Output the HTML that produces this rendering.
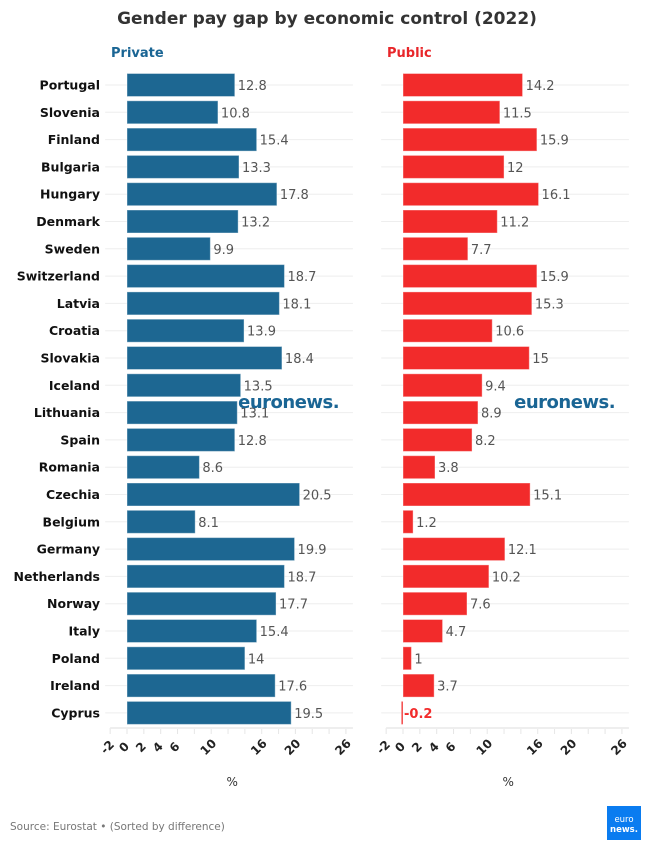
<!DOCTYPE html>
<html><head><meta charset="utf-8"><style>
body{margin:0;background:#fff;width:654px;height:848px;overflow:hidden;font-family:"DejaVu Sans","Liberation Sans",sans-serif}
</style></head><body>
<svg id="c" width="654" height="848" xmlns="http://www.w3.org/2000/svg" font-family="DejaVu Sans, Liberation Sans, sans-serif">
<text x="327" y="24" text-anchor="middle" font-size="17" font-weight="bold" fill="#333">Gender pay gap by economic control (2022)</text>
<text x="111" y="57" font-size="13" font-weight="bold" fill="#1a6594">Private</text>
<text x="387" y="57" font-size="13" font-weight="bold" fill="#e8262a">Public</text>
<g id="g"></g>
<text x="10" y="830" font-size="10.5" fill="#777">Source: Eurostat • (Sorted by difference)</text>
<rect x="607" y="806" width="34" height="34" fill="#0a7cf0"/>
<text x="624" y="822" text-anchor="middle" font-size="8.5" fill="#fff">euro</text>
<text x="624" y="832" text-anchor="middle" font-size="8.5" font-weight="bold" fill="#fff">news.</text>
</svg>
<script>
const countries=["Portugal","Slovenia","Finland","Bulgaria","Hungary","Denmark","Sweden","Switzerland","Latvia","Croatia","Slovakia","Iceland","Lithuania","Spain","Romania","Czechia","Belgium","Germany","Netherlands","Norway","Italy","Poland","Ireland","Cyprus"];
const privateVals=[12.8,10.8,15.4,13.3,17.8,13.2,9.9,18.7,18.1,13.9,18.4,13.5,13.1,12.8,8.6,20.5,8.1,19.9,18.7,17.7,15.4,14,17.6,19.5];
const publicVals=[14.2,11.5,15.9,12,16.1,11.2,7.7,15.9,15.3,10.6,15,9.4,8.9,8.2,3.8,15.1,1.2,12.1,10.2,7.6,4.7,1,3.7,-0.2];
const tickVals=[-2,0,2,4,6,10,16,20,26];
const NS="http://www.w3.org/2000/svg";
const g=document.getElementById('g');
function mk(t,a,txt){const e=document.createElementNS(NS,t);for(const k in a)e.setAttribute(k,a[k]);if(txt!==undefined)e.textContent=txt;g.appendChild(e);return e;}
const y=i=>85+i*27.3;
const panels=[{x0:127,vals:privateVals,color:"#1d6792",name:"private"},{x0:403,vals:publicVals,color:"#f22b2b",name:"public"}];
const k=8.42;
countries.forEach((c,i)=>{
  const t=mk('text',{x:100,y:y(i)+4.5,'text-anchor':'end','font-size':12.5,'font-weight':'bold',fill:'#111'},c);
  
  
});
panels.forEach(p=>{
  const sx=v=>p.x0+v*k;
  countries.forEach((c,i)=>{
    const gl=mk('line',{x1:sx(-2)-5,x2:sx(26)+7,y1:y(i),y2:y(i),stroke:'#eee'});
    
    
  });
  for(let v=-2;v<=26;v+=2){
    const tk=mk('line',{x1:sx(v),x2:sx(v),y1:728,y2:734,stroke:'#e6e6e6'});
    
    
  }
  const ax=mk('line',{x1:sx(-2),x2:sx(26)+7,y1:728,y2:728,stroke:'#eee','stroke-width':2});
  
  
  p.vals.forEach((v,i)=>{
    const x=Math.min(sx(0),sx(v)),w=Math.max(Math.abs(sx(v)-sx(0)),1.5);
    const r=mk('rect',{x:x,y:y(i)-11.5,width:w,height:23,fill:p.color,stroke:'rgba(255,255,255,0.4)'});
    
    
    const neg=v<0;
    const lb=mk('text',{x:neg?sx(0)+1:sx(v)+3,y:y(i)+5,'font-size':13,fill:neg?'#f22b2b':'#555','font-weight':neg?'bold':'normal'},String(v));
    
    
  });
  tickVals.forEach(v=>{
    const t=mk('text',{x:sx(v),y:750,'text-anchor':'middle','font-size':12,'font-weight':'bold',fill:'#222',transform:`rotate(-45 ${sx(v)} 750)`},String(v));
    
    
  });
  const at=mk('text',{x:sx(12.5),y:786,'text-anchor':'middle','font-size':12,fill:'#333'},'%');
  
  
  const wm=mk('text',{x:sx(13.2),y:408,'font-size':18,fill:'#1a6594','font-weight':'bold','letter-spacing':'-0.5'},'euronews.');
  
  
});
</script>
</body></html>
